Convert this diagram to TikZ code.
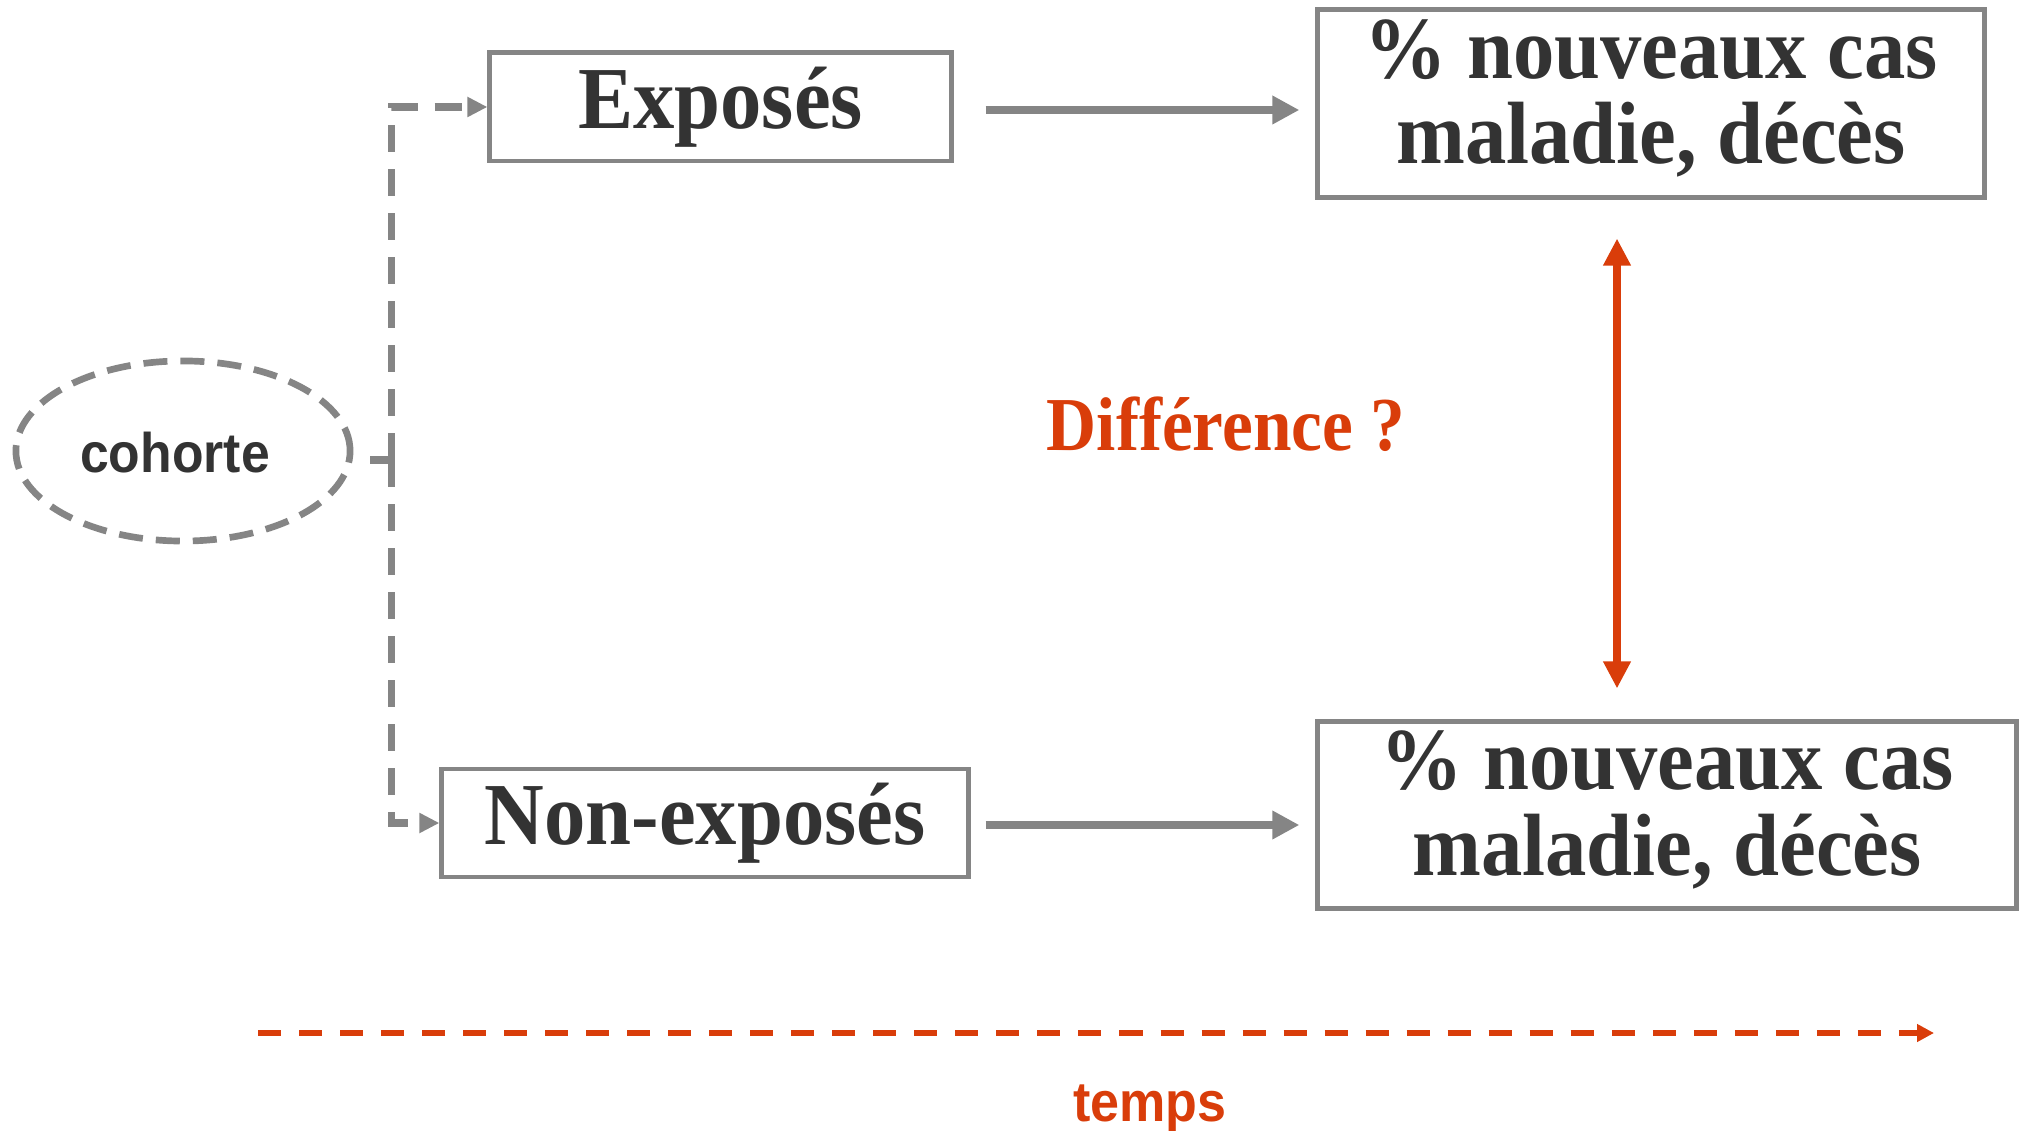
\documentclass[tikz,border=0pt]{standalone}
\usepackage{fontspec}
\setmainfont{Liberation Serif}
\setsansfont{Liberation Sans}
\usetikzlibrary{arrows.meta,shapes.geometric,calc}
\definecolor{lgray}{HTML}{858585}
\definecolor{dtext}{HTML}{333333}
\definecolor{rred}{HTML}{D93D0A}
\newcommand{\vstr}[1]{\scalebox{1}[1.07]{#1}}
\begin{document}
\begin{tikzpicture}[x=0.01cm,y=-0.01cm,
  box/.style={draw=lgray,line width=1.4pt,rectangle,inner sep=0pt,text=dtext,
    font=\bfseries\fontsize{23.5}{21}\selectfont},
  gline/.style={draw=lgray,line width=2.2pt},
  garrow/.style={gline,-{Triangle[length=0.27cm,width=0.27cm]}},
  gdash/.style={draw=lgray,line width=2pt,dash pattern=on 0.27cm off 0.17cm},
  gdasharrow/.style={gdash,-{Triangle[length=0.2cm,width=0.19cm]}},
  rarrow/.style={draw=rred,line width=2.5pt,{Triangle[length=0.27cm,width=0.26cm]}-{Triangle[length=0.27cm,width=0.26cm]}},
  rdash/.style={draw=rred,line width=1.7pt,dash pattern=on 0.23cm off 0.18cm,-{Triangle[length=0.17cm,width=0.17cm]}},
]
\useasboundingbox (0,0) rectangle (2019,1131);

\node[box,minimum width=4.61cm,minimum height=1.08cm] (expo) at (720.5,107) {\vstr{Exposés}};
\node[box,minimum width=5.26cm,minimum height=1.08cm] (nonexpo) at (705,823) {\vstr{Non-exposés}};
\node[box,minimum width=6.66cm,minimum height=1.87cm] (res1) at (1651,103.5)
  {\vstr{\begin{tabular}{@{}c@{}}\% nouveaux cas\\ maladie, décès\end{tabular}}};
\node[box,minimum width=6.98cm,minimum height=1.86cm] (res2) at (1667,815)
  {\vstr{\begin{tabular}{@{}c@{}}\% nouveaux cas\\ maladie, décès\end{tabular}}};

\node[ellipse,draw=lgray,line width=1.9pt,dash pattern=on 0.24cm off 0.13cm,
  minimum width=3.34cm,minimum height=1.8cm,inner sep=0pt] (coh) at (183,451) {};
\node[text=dtext,font=\sffamily\bfseries\fontsize{14.7}{17}\selectfont] (cohlbl) at (175,453) {\scalebox{1}[1.08]{cohorte}};

\node[text=rred,font=\bfseries\fontsize{19.7}{22}\selectfont] (diff) at (1226,424) {\scalebox{1}[1.1]{Différence ?}};
\node[text=rred,font=\sffamily\bfseries\fontsize{14.8}{17}\selectfont] (temps) at (1150,1109) {\scalebox{1}[1.08]{temps}};

% dashed tree from cohorte
\coordinate (j) at ($(coh.east)+(38,9)$);
\draw[gdash] ($(coh.east)+(17,9)$) -- (j);
\draw[gdasharrow] (j) |- (expo.west);
\draw[gdasharrow] (j) |- (nonexpo.west);

% solid arrows
\draw[garrow] ($(expo.east)+(32,3)$) -- ($(res1.west|-expo.east)+(-16,3)$);
\draw[garrow] ($(expo.east|-nonexpo.east)+(32,2)$) -- ($(res2.west|-nonexpo.east)+(-16,2)$);

% red double arrow
\draw[rarrow] ($(res1.south)+(-34,39)$) -- ($(res1.south|-res2.north)+(-34,-31)$);

% time axis
\coordinate (t0) at (258,1033);
\coordinate (t1) at (1934,1033);
\draw[rdash] (t0) -- (t1);
\end{tikzpicture}
\end{document}
